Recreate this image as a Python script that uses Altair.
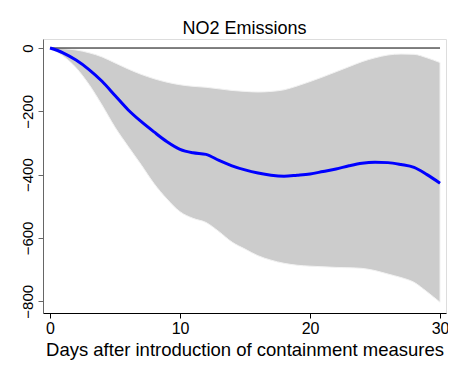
import altair as alt
import pandas as pd

days = list(range(31))
effect = [0, -15, -38, -68, -105, -150, -195, -232, -265, -296, -320, -331, -336,
          -355, -372, -385, -395, -402, -405, -402, -398, -390, -382, -372, -364,
          -361, -362, -368, -377, -400, -427]
upper = [0, -2, -6, -15, -28, -47, -66, -83, -97, -108, -116, -121, -124, -129,
         -134, -137, -139, -137, -132, -120, -106, -91, -75, -59, -43, -31, -22,
         -19, -20, -31, -46]
lower = [0, -25, -62, -115, -180, -250, -310, -368, -428, -477, -517, -538, -551,
         -580, -613, -635, -656, -670, -680, -686, -689, -691, -693, -694, -696,
         -703, -714, -725, -740, -770, -803]

x_ticks = [0, 10, 20, 30]
y_ticks = [0, -200, -400, -600, -800]

df = pd.DataFrame({"day": days, "effect": effect, "upper": upper, "lower": lower})
zero_df = pd.DataFrame({"x0": [0], "x1": [30], "y": [0]})

xscale = alt.Scale(domain=[-0.54, 30.46], nice=False, zero=False)
yscale = alt.Scale(domain=[-837, 28.5], nice=False, zero=False)

band = alt.Chart(df).mark_area(color="#cccccc", interpolate="monotone",
                               stroke="#f2f2f2", strokeWidth=1).encode(
    x=alt.X("day:Q", scale=xscale,
            axis=alt.Axis(values=x_ticks, title="Days after introduction of containment measures",
                          titleFontSize=18.5, titleFontWeight="normal", titleColor="black",
                          labelFontSize=16, labelColor="black", tickSize=5, tickColor="black",
                          domainColor="black", labelPadding=2, titlePadding=4, grid=False)),
    y=alt.Y("upper:Q", scale=yscale,
            axis=alt.Axis(values=y_ticks, title=None, labelAngle=270, labelAlign="center",
                          labelBaseline="bottom", labelFontSize=15, labelColor="black",
                          tickSize=5, tickColor="#666666", domainColor="#666666",
                          labelPadding=3, grid=False)),
    y2="lower:Q",
)

zero = alt.Chart(zero_df).mark_rule(color="black", strokeWidth=1).encode(
    x=alt.X("x0:Q", scale=xscale), x2="x1:Q", y=alt.Y("y:Q", scale=yscale)
)

line = alt.Chart(df).mark_line(color="#0000ff", strokeWidth=3, interpolate="monotone").encode(
    x=alt.X("day:Q", scale=xscale), y=alt.Y("effect:Q", scale=yscale)
)

chart = alt.layer(band, zero, line).properties(
    width=403, height=274,
    title=alt.TitleParams("NO2 Emissions", fontSize=18, fontWeight="normal",
                          anchor="middle", offset=1, color="black"),
    autosize=alt.AutoSizeParams(type="none"),
    padding={"left": 35, "top": 31, "right": 2, "bottom": 57},
).configure_view(stroke=None).configure(font="Liberation Sans")

chart.save("out.html", embed_options={"renderer": "svg", "actions": False})
